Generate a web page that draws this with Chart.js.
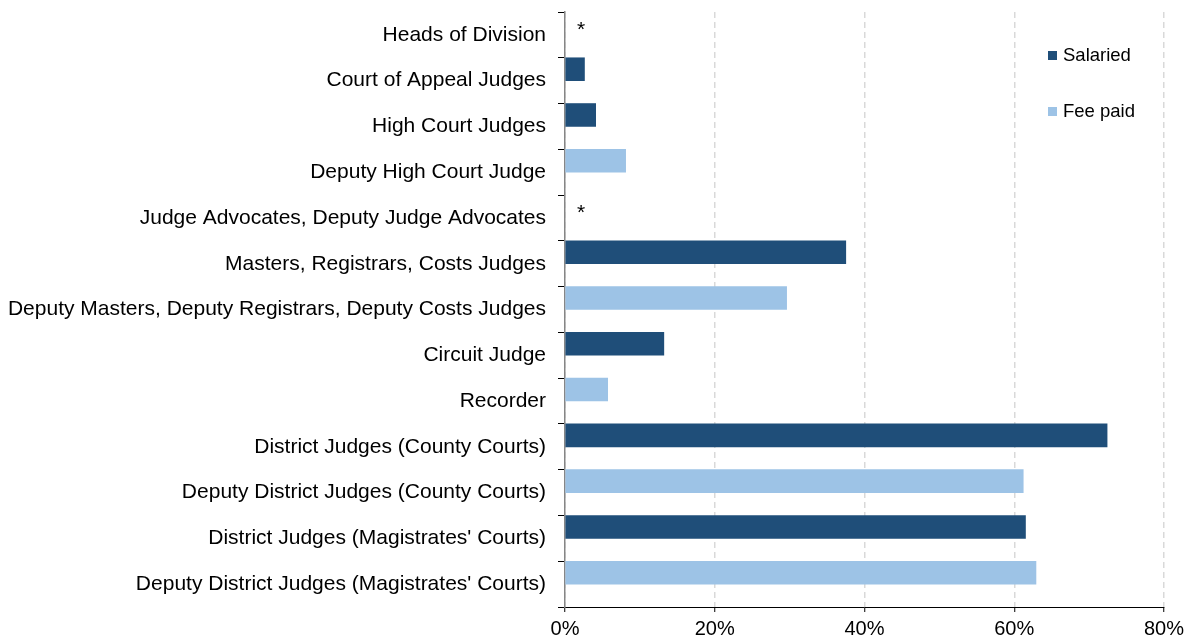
<!DOCTYPE html>
<html lang="en">
<head>
  <meta charset="UTF-8" />
  <title>Judicial appointments</title>
  <script src="https://cdn.jsdelivr.net/npm/chart.js"></script>
  <style>
    body { margin: 0; background: #fff; font-family: "Liberation Sans", Arial, sans-serif; }
    .wrap { position: relative; width: 1193px; height: 641px; }
    .legend { position: absolute; left: 1048px; top: 42px; font-size: 18.5px; color: #000; }
    .legend-item { display: flex; align-items: center; height: 26px; margin-bottom: 30px; }
    .swatch { width: 9px; height: 9px; margin-right: 6px; }
  </style>
</head>
<body>
  <div class="wrap">
    <canvas id="chart"></canvas>
    <div class="legend" id="legend"></div>
  </div>

  <script>
    const categories = [
      "Heads of Division",
      "Court of Appeal Judges",
      "High Court Judges",
      "Deputy High Court Judge",
      "Judge Advocates, Deputy Judge Advocates",
      "Masters, Registrars, Costs Judges",
      "Deputy Masters, Deputy Registrars, Deputy Costs Judges",
      "Circuit Judge",
      "Recorder",
      "District Judges (County Courts)",
      "Deputy District Judges (County Courts)",
      "District Judges (Magistrates' Courts)",
      "Deputy District Judges (Magistrates' Courts)"
    ];
    const salaried = [null, 2.6, 4.1, null, null, 37.5, null, 13.2, null, 72.4, null, 61.5, null];
    const feePaid  = [null, null, null, 8.1, null, null, 29.6, null, 5.7, null, 61.2, null, 62.9];
    // "*" = figure suppressed
    const notes = ["*", null, null, null, "*", null, null, null, null, null, null, null, null];
    // empty second slot so bars sit in the upper half of each row (like the Excel original)
    const spacer = [null, null, null, null, null, null, null, null, null, null, null, null, null];
    const xTicks = [0, 20, 40, 60, 80];

    const series = [
      { label: "Salaried", data: salaried, color: "#1F4E79" },
      { label: "Fee paid", data: feePaid, color: "#9DC3E6" }
    ];

    document.getElementById("legend").innerHTML = series.map(s => `
      <div class="legend-item"><span class="swatch" style="background:${s.color}"></span>${s.label}</div>
    `).join("");

    const notesPlugin = {
      id: "notes",
      afterDatasetsDraw(chart) {
        const { ctx, scales: { x, y } } = chart;
        ctx.save();
        ctx.font = '21px "Liberation Sans", Arial, sans-serif';
        ctx.fillStyle = "#000";
        ctx.textAlign = "center";
        ctx.textBaseline = "alphabetic";
        notes.forEach((n, i) => {
          if (!n) return;
          ctx.fillText(n, x.getPixelForValue(0) + 16, y.getPixelForValue(i) + 1);
        });
        ctx.restore();
      }
    };

    new Chart(document.getElementById("chart"), {
      type: "bar",
      data: {
        labels: categories,
        datasets: [
          ...series.map(s => ({ label: s.label, data: s.data, backgroundColor: s.color, stack: "a" })),
          { label: "", data: spacer, stack: "b" }
        ]
      },
      options: {
        indexAxis: "y",
        responsive: true,
        maintainAspectRatio: false,
        animation: false,
        categoryPercentage: 1,
        barPercentage: 1,
        layout: { padding: { top: 12, right: 29, left: 0, bottom: 0 } },
        plugins: { legend: { display: false }, tooltip: { enabled: false } },
        scales: {
          x: {
            stacked: true,
            min: 0,
            max: 80,
            afterBuildTicks(s) { s.ticks = xTicks.map(v => ({ value: v })); },
            afterFit(s) { s.height = 34; },
            ticks: {
              callback: v => v + "%",
              color: "#000",
              font: { family: '"Liberation Sans", Arial, sans-serif', size: 20 },
              padding: 5,
              maxRotation: 0
            },
            grid: { color: "#D9D9D9", lineWidth: 1.5, tickLength: 5, tickColor: "#000", tickWidth: 1, tickBorderDash: [] },
            border: { display: true, color: "#000", width: 1, dash: [6, 4] }
          },
          y: {
            stacked: true,
            afterFit(s) { s.width = 565; s.paddingTop = 0; s.paddingBottom = 0; },
            ticks: {
              color: "#000",
              font: { family: '"Liberation Sans", Arial, sans-serif', size: 21 },
              padding: 12,
              autoSkip: false
            },
            grid: { offset: true, drawOnChartArea: false, tickLength: 7, tickColor: "#000" },
            border: { color: "#868686", width: 1.5 }
          }
        }
      },
      plugins: [notesPlugin]
    });
  </script>
</body>
</html>
